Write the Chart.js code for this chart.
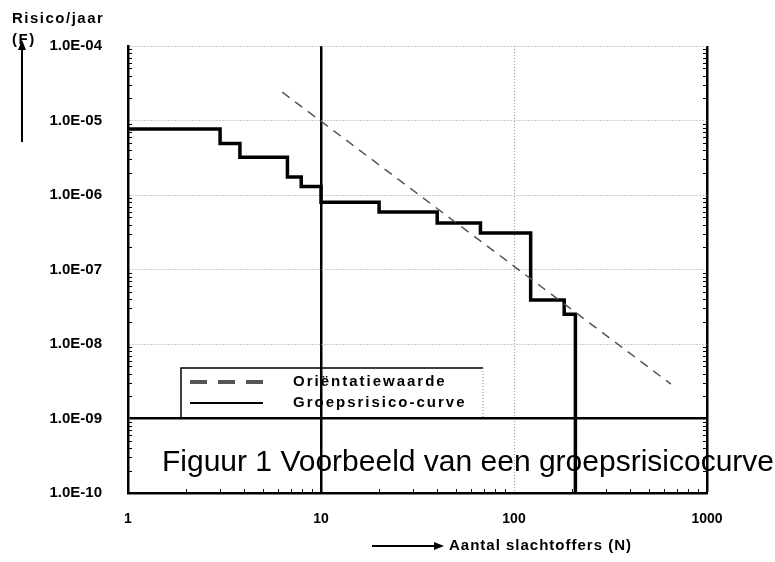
<!DOCTYPE html>
<html>
<head>
<meta charset="utf-8">
<script src="https://cdn.jsdelivr.net/npm/chart.js@4/dist/chart.umd.min.js"></script>
<style>
  html, body { margin: 0; padding: 0; background: #fff; }
  #wrap { position: relative; width: 775px; height: 562px; }
</style>
</head>
<body>
<div id="wrap"><canvas id="fn" width="775" height="562"></canvas></div>
<script>
// groepsrisicocurve (N = slachtoffers, F = frequentie per jaar)
const curveN = [1, 3, 3.8, 6.7, 7.9, 10, 20, 40, 67, 122, 182, 208];
const curveF = [7.7e-6, 4.9e-6, 3.2e-6, 1.75e-6, 1.3e-6, 8e-7, 5.9e-7, 4.2e-7, 3.1e-7, 3.9e-8, 2.5e-8, 1e-10];

// orienterende waarde (rechte lijn)
const orientN = [6.3, 650];
const orientF = [2.4e-5, 2.9e-9];

const xTickValues = [1, 10, 100, 1000];
const xTickLabels = ["1", "10", "100", "1000"];
const yTickValues = [1e-10, 1e-9, 1e-8, 1e-7, 1e-6, 1e-5, 1e-4];
const yTickLabels = ["1.0E-10", "1.0E-09", "1.0E-08", "1.0E-07", "1.0E-06", "1.0E-05", "1.0E-04"];

const seriesLabels = ["Oriëntatiewaarde", "Groepsrisico-curve"];

const FONT = "'Liberation Sans', Arial, sans-serif";

function pts(xs, ys) {
    return xs.map((x, i) => ({ x: x, y: ys[i] }));
}

// extra tekst, pijlen, legenda en kleine streepjes
const decorations = {
    id: "decorations",
    afterDraw(chart) {
        const ctx = chart.ctx;
        const xs = chart.scales.x, ys = chart.scales.y;
        const area = chart.chartArea;
        ctx.save();
        ctx.strokeStyle = "#000";
        ctx.fillStyle = "#000";

        // kleine streepjes op de assen
        ctx.lineWidth = 1;
        for (let d = 1e-10; d < 1e-4 * 0.99; d *= 10) {
            for (let k = 2; k <= 9; k++) {
                const py = Math.round(ys.getPixelForValue(k * d)) + 0.5;
                ctx.beginPath();
                ctx.moveTo(area.left, py); ctx.lineTo(area.left + 4, py);
                ctx.moveTo(area.right, py); ctx.lineTo(area.right - 4, py);
                ctx.stroke();
            }
        }
        for (let d = 1; d < 1000 * 0.99; d *= 10) {
            for (let k = 2; k <= 9; k++) {
                const px = Math.round(xs.getPixelForValue(k * d)) + 0.5;
                ctx.beginPath();
                ctx.moveTo(px, area.bottom); ctx.lineTo(px, area.bottom - 4);
                ctx.stroke();
            }
        }

        // y-as titel met pijl
        ctx.font = "bold 15px " + FONT;
        ctx.textBaseline = "middle";
        ctx.textAlign = "left";
        ctx.letterSpacing = "1.5px";
        ctx.fillText("Risico/jaar", 12, 19);
        ctx.fillText("(F)", 12, 40);
        ctx.letterSpacing = "0px";
        ctx.lineWidth = 2;
        ctx.beginPath();
        ctx.moveTo(22, 142); ctx.lineTo(22, 46);
        ctx.stroke();
        ctx.beginPath();
        ctx.moveTo(22, 40); ctx.lineTo(18, 50); ctx.lineTo(26, 50);
        ctx.closePath(); ctx.fill();

        // x-as titel met pijl
        ctx.beginPath();
        ctx.moveTo(372, 546); ctx.lineTo(436, 546);
        ctx.stroke();
        ctx.beginPath();
        ctx.moveTo(444, 546); ctx.lineTo(434, 542); ctx.lineTo(434, 550);
        ctx.closePath(); ctx.fill();
        ctx.font = "bold 15px " + FONT;
        ctx.letterSpacing = "1px";
        ctx.fillText("Aantal slachtoffers (N)", 449, 546);
        ctx.letterSpacing = "0px";

        // legenda
        const lx = 181, ly = 368, lw = 302, lh = 50;
        ctx.lineWidth = 1.5;
        ctx.beginPath();
        ctx.moveTo(lx, ly + lh); ctx.lineTo(lx, ly); ctx.lineTo(lx + lw, ly);
        ctx.stroke();
        ctx.setLineDash([1, 2]);
        ctx.strokeStyle = "#888";
        ctx.lineWidth = 1;
        ctx.beginPath();
        ctx.moveTo(lx + lw, ly); ctx.lineTo(lx + lw, ly + lh);
        ctx.stroke();
        ctx.setLineDash([]);
        chart.data.datasets.forEach((ds, i) => {
            const ry = ly + 14 + i * 21;
            const dashed = !!ds.borderDash;
            ctx.strokeStyle = ds.borderColor;
            ctx.lineWidth = dashed ? 4 : 2;
            ctx.setLineDash(dashed ? [17, 11] : []);
            ctx.beginPath();
            ctx.moveTo(lx + 9, ry); ctx.lineTo(lx + 82, ry);
            ctx.stroke();
            ctx.setLineDash([]);
            ctx.fillStyle = "#000";
            ctx.font = "bold 15px " + FONT;
            ctx.letterSpacing = "2px";
            ctx.fillText(ds.label, lx + 112, ry);
            ctx.letterSpacing = "0px";
        });

        // onderschrift
        ctx.fillStyle = "#000";
        ctx.font = "30px " + FONT;
        ctx.textBaseline = "alphabetic";
        ctx.fillText("Figuur 1 Voorbeeld van een groepsrisicocurve", 162, 471);
        ctx.restore();
    }
};

new Chart(document.getElementById("fn"), {
    type: "line",
    data: {
        datasets: [
            {
                label: seriesLabels[0],
                data: pts(orientN, orientF),
                borderColor: "#555",
                borderWidth: 1.5,
                borderDash: [9, 7],
                pointRadius: 0,
                fill: false
            },
            {
                label: seriesLabels[1],
                data: pts(curveN, curveF),
                borderColor: "#000",
                borderWidth: 3.5,
                stepped: "before",
                pointRadius: 0,
                fill: false
            }
        ]
    },
    options: {
        responsive: false,
        animation: false,
        layout: { padding: { top: 46, right: 68, left: 0, bottom: 0 } },
        plugins: {
            legend: { display: false },
            tooltip: { enabled: false }
        },
        scales: {
            x: {
                type: "logarithmic",
                min: 1,
                max: 1000,
                afterBuildTicks: (scale) => { scale.ticks = xTickValues.map(v => ({ value: v })); },
                afterFit: (scale) => { scale.height = 69; },
                ticks: {
                    callback: (v) => xTickLabels[xTickValues.indexOf(v)],
                    font: { family: FONT, size: 14, weight: "bold" },
                    color: "#000",
                    padding: 18,
                    maxRotation: 0
                },
                grid: {
                    drawTicks: false,
                    color: (c) => (c.tick && (c.tick.value === 10 || c.tick.value === 1000)) ? "#000" : "#999",
                    lineWidth: (c) => (c.tick && (c.tick.value === 10 || c.tick.value === 1000)) ? 2.5 : 1
                },
                border: {
                    color: "#000",
                    width: 2.5,
                    dash: (c) => (c.tick && (c.tick.value === 10 || c.tick.value === 1000)) ? [] : [1, 2]
                }
            },
            y: {
                type: "logarithmic",
                min: 1e-10,
                max: 1e-4,
                afterBuildTicks: (scale) => { scale.ticks = yTickValues.map(v => ({ value: v })); },
                afterFit: (scale) => { scale.width = 128; },
                ticks: {
                    callback: (v) => yTickLabels[yTickValues.indexOf(v)],
                    font: { family: FONT, size: 15, weight: "bold" },
                    color: "#000",
                    padding: 26
                },
                grid: {
                    drawTicks: false,
                    color: (c) => (c.tick && c.tick.value === 1e-9) ? "#000" : "#999",
                    lineWidth: (c) => (c.tick && c.tick.value === 1e-9) ? 2.5 : 1
                },
                border: {
                    color: "#000",
                    width: 2.5,
                    dash: (c) => (c.tick && c.tick.value === 1e-9) ? [] : [1, 2]
                }
            }
        }
    },
    plugins: [decorations]
});
</script>
</body>
</html>
